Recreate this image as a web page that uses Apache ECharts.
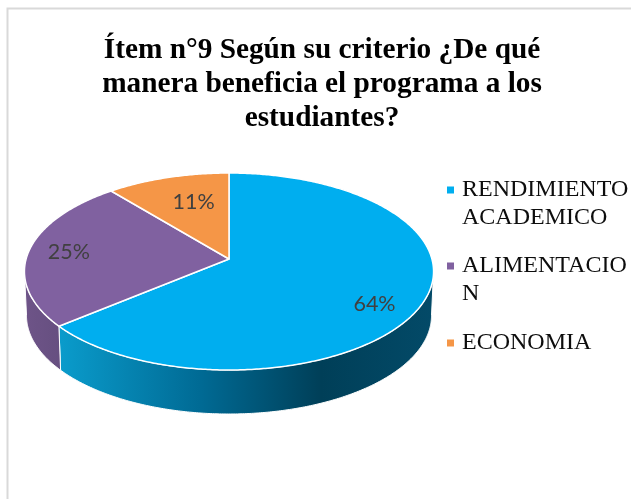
<!DOCTYPE html>
<html>
<head>
<meta charset="utf-8">
<style>
  html, body { margin: 0; padding: 0; background: #fff; }
  #chart { width: 631px; height: 499px; }
</style>
</head>
<body>
<div id="chart"></div>
<script src="https://cdn.jsdelivr.net/npm/echarts@6/dist/echarts.min.js"></script>
<script>
const titleText = 'Ítem n°9 Según su criterio ¿De qué\nmanera beneficia el programa a los\nestudiantes?'
const categories = ['RENDIMIENTO ACADEMICO', 'ALIMENTACION', 'ECONOMIA']
const legendLabels = ['RENDIMIENTO\nACADEMICO', 'ALIMENTACIO\nN', 'ECONOMIA']
const values = [64, 25, 11]
const colors = ['#00aeef', '#8061a0', '#f59647']

// perspective disc: centre of the slices, radii and tilt
const CX = 229
const CY = 259
const RX = 202.9
const RY = 96.9
const TILT = 0.127
const DEPTH = 44
const WALL_TAPER = 0.99
const total = values.reduce((a, b) => a + b, 0)

// wall colours, left to right
const wallStops = [
  [{ offset: 0, color: '#0a9ccc' }, { offset: 0.38, color: '#006a94' }, { offset: 0.7, color: '#003f58' }, { offset: 1, color: '#034a68' }],
  [{ offset: 0, color: '#6e5488' }, { offset: 1, color: '#664f80' }],
  [{ offset: 0, color: '#c47a3a' }, { offset: 1, color: '#c47a3a' }]
]
// nudge of each percentage label from its slice's mid point
const labelNudge = [[2, 13], [-10, 0], [12, 6]]

// t is clockwise from the top, in radians
function project(t, r) {
  const u = Math.sin(t) * r
  const v = -Math.cos(t) * r
  const d = 1 - TILT * v
  return [CX + RX * u / d, CY + RY * v / d]
}

function arc(from, to) {
  const pts = []
  const steps = Math.max(2, Math.ceil((to - from) / 0.01))
  for (let i = 0; i <= steps; i++) {
    pts.push(project(from + (to - from) * i / steps, 1))
  }
  return pts
}

function renderSlice(index, api) {
  const before = values.slice(0, index).reduce((a, b) => a + b, 0)
  const start = before / total * Math.PI * 2
  const end = start + api.value(0) / total * Math.PI * 2
  const children = []

  // only the front of the rim shows a wall
  const edge = Math.acos(-TILT)
  const wFrom = Math.max(start, edge)
  const wTo = Math.min(end, Math.PI * 2 - edge)
  if (wFrom < wTo) {
    const rim = arc(wFrom, wTo)
    const lower = rim.map(p => [CX + (p[0] - CX) * WALL_TAPER, p[1] + DEPTH]).reverse()
    children.push({
      type: 'polygon',
      z2: 1,
      shape: { points: rim.concat(lower) },
      style: {
        fill: new echarts.graphic.LinearGradient(0, 0, 1, 0, wallStops[index]),
        stroke: '#fff',
        lineWidth: 1
      }
    })
  }

  children.push({
    type: 'polygon',
    z2: 2,
    shape: { points: [[CX, CY]].concat(arc(start, end)) },
    style: { fill: colors[index], stroke: '#fff', lineWidth: 1.5, lineJoin: 'round' }
  })

  const mid = project((start + end) / 2, 0.75)
  children.push({
    type: 'text',
    z2: 3,
    style: {
      text: Math.round(api.value(0) / total * 100) + '%',
      x: mid[0] + labelNudge[index][0],
      y: mid[1] + labelNudge[index][1],
      align: 'center',
      verticalAlign: 'middle',
      fill: '#404040',
      font: '21.5px Lato'
    }
  })
  return { type: 'group', children }
}

const chart = echarts.init(document.getElementById('chart'), null, { renderer: 'canvas' })

const legendText = {
  fontFamily: 'Liberation Serif',
  fontSize: 24,
  lineHeight: 28,
  color: '#0d0d0d',
  padding: [0, 0, 0, 3]
}

chart.setOption({
  backgroundColor: '#fff',
  animation: false,
  title: {
    text: titleText,
    left: 317,
    top: 28,
    textAlign: 'center',
    textStyle: {
      fontFamily: 'Liberation Serif',
      fontWeight: 'bold',
      fontSize: 29.3,
      lineHeight: 34,
      color: '#000'
    }
  },
  // two legends: the two-line entries keep their square on the first line
  legend: [{
    orient: 'vertical',
    left: 447,
    top: 176,
    padding: 0,
    itemGap: 20,
    itemWidth: 7,
    itemHeight: 35,
    selectedMode: false,
    itemStyle: { borderWidth: 0 },
    icon: 'path://M0 0h7v7h-7zM0 35h7',
    data: categories.slice(0, 2),
    formatter: name => legendLabels[categories.indexOf(name)],
    textStyle: legendText
  }, {
    orient: 'vertical',
    left: 447,
    top: 329,
    padding: 0,
    itemWidth: 7,
    itemHeight: 7,
    selectedMode: false,
    itemStyle: { borderWidth: 0 },
    icon: 'rect',
    data: categories.slice(2),
    formatter: name => legendLabels[categories.indexOf(name)],
    textStyle: legendText
  }],
  graphic: [{
    type: 'rect',
    silent: true,
    shape: { x: 7.5, y: 8.5, width: 700, height: 600 },
    style: { fill: 'none', stroke: '#d9d9d9', lineWidth: 2 }
  }],
  series: categories.map((name, i) => ({
    type: 'custom',
    name,
    coordinateSystem: 'none',
    itemStyle: { color: colors[i] },
    data: [[values[i]]],
    renderItem: (params, api) => renderSlice(i, api)
  }))
})
</script>
</body>
</html>
